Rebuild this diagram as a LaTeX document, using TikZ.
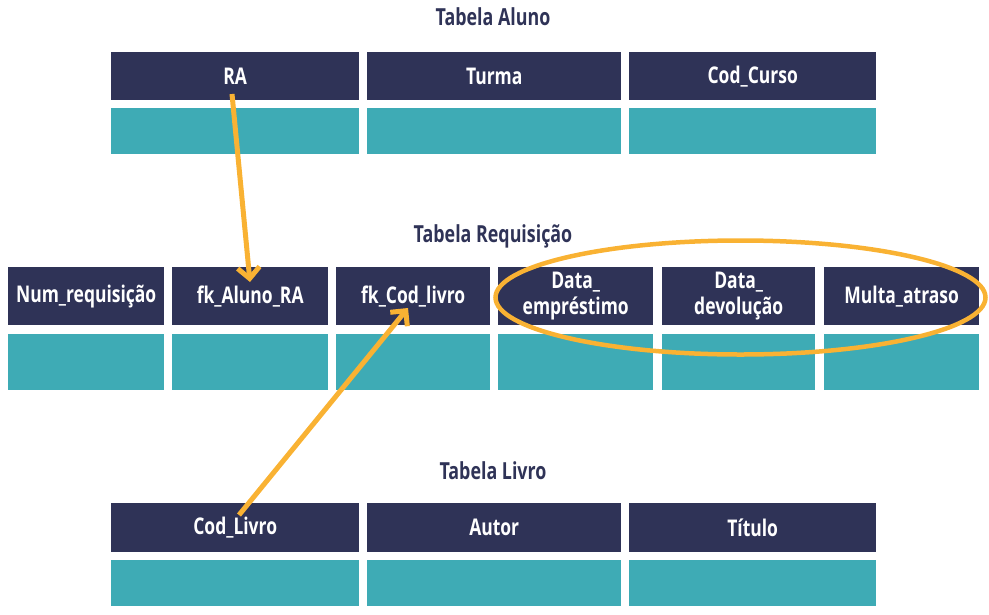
\documentclass[tikz,border=0pt]{standalone}
\usepackage{fontspec}
\setmainfont[FakeStretch=0.76]{Open Sans}
\usetikzlibrary{arrows.meta,shapes.geometric,calc}
\definecolor{navy}{HTML}{2F3357}
\definecolor{teal}{HTML}{3EABB5}
\definecolor{orng}{HTML}{F9B233}
\begin{document}
\begin{tikzpicture}[x=1pt,y=-1pt,
  hdr/.style={fill=navy,draw=none,anchor=north west,inner sep=0pt,align=center,
    text=white,font=\bfseries\fontsize{23}{26}\selectfont},
  cell/.style={fill=teal,draw=none,anchor=north west,inner sep=0pt},
  ttl/.style={text=navy,font=\bfseries\fontsize{23.5}{26}\selectfont},
  link/.style={draw=orng,line width=5pt,-{Straight Barb[length=11pt,width=22pt,line width=5pt]}}]
\useasboundingbox (0,0) rectangle (989,614);
% Tabela Aluno
\node[ttl] (tA) at (493,17) {Tabela Aluno};
\node[hdr,minimum width=248pt,minimum height=48pt] (ra) at (111,52) {RA};
\node[hdr,minimum width=254pt,minimum height=48pt] (turma) at (367,52) {Turma};
\node[hdr,minimum width=247pt,minimum height=48pt] (curso) at (629,52) {Cod\_Curso};
\node[cell,minimum width=248pt,minimum height=46pt] (ra2) at (111,108) {};
\node[cell,minimum width=254pt,minimum height=46pt] (turma2) at (367,108) {};
\node[cell,minimum width=247pt,minimum height=46pt] (curso2) at (629,108) {};
% Tabela Requisicao
\node[ttl] (tR) at (493,236) {Tabela Requisição};
\node[hdr,minimum width=156pt,minimum height=58pt] (num) at (8,267) {Num\_requisição};
\node[hdr,minimum width=156pt,minimum height=58pt] (fka) at (172,267) {fk\_Aluno\_RA};
\node[hdr,minimum width=154pt,minimum height=58pt] (fkc) at (336,267) {fk\_Cod\_livro};
\node[hdr,minimum width=155pt,minimum height=58pt] (demp) at (498,267) {Data\_\\empréstimo};
\node[hdr,minimum width=153pt,minimum height=58pt] (ddev) at (662,267) {Data\_\\devolução};
\node[hdr,minimum width=155pt,minimum height=58pt] (multa) at (824,267) {Multa\_atraso};
\node[cell,minimum width=156pt,minimum height=56pt] (num2) at (8,334) {};
\node[cell,minimum width=156pt,minimum height=56pt] (fka2) at (172,334) {};
\node[cell,minimum width=154pt,minimum height=56pt] (fkc2) at (336,334) {};
\node[cell,minimum width=155pt,minimum height=56pt] (demp2) at (498,334) {};
\node[cell,minimum width=153pt,minimum height=56pt] (ddev2) at (662,334) {};
\node[cell,minimum width=155pt,minimum height=56pt] (multa2) at (824,334) {};
% Tabela Livro
\node[ttl] (tL) at (493,471) {Tabela Livro};
\node[hdr,minimum width=248pt,minimum height=49pt] (cod) at (111,503) {Cod\_Livro};
\node[hdr,minimum width=254pt,minimum height=49pt] (autor) at (367,503) {Autor};
\node[hdr,minimum width=247pt,minimum height=49pt] (titulo) at (629,503) {Título};
\node[cell,minimum width=248pt,minimum height=46pt] (cod2) at (111,560) {};
\node[cell,minimum width=254pt,minimum height=46pt] (autor2) at (367,560) {};
\node[cell,minimum width=247pt,minimum height=46pt] (titulo2) at (629,560) {};
% highlight ellipse
\node[draw=orng,line width=4.5pt,ellipse,minimum width=490pt,minimum height=114pt,inner sep=0pt] (hl) at (740.5,297.5) {};
% links
\coordinate (raS) at ($(ra.north west)+(121,42)$);
\coordinate (fkaT) at ($(fka.north west)+(78,15)$);
\coordinate (codS) at ($(cod.north west)+(128,12)$);
\coordinate (fkcT) at ($(fkc.north west)+(72,41)$);
\draw[link] (raS) -- (fkaT);
\draw[link] (codS) -- (fkcT);
\end{tikzpicture}
\end{document}
